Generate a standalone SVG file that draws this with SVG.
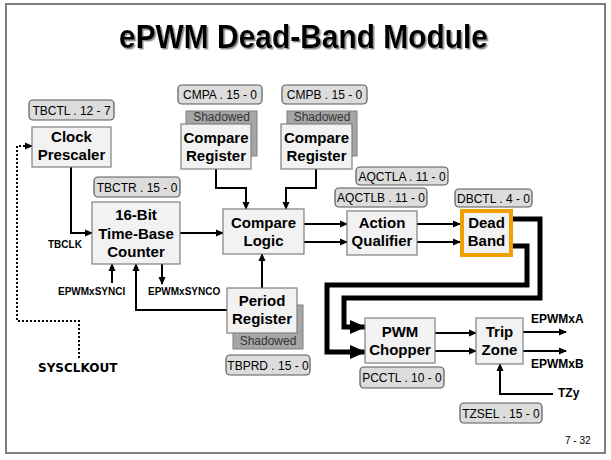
<svg xmlns="http://www.w3.org/2000/svg" width="611" height="460" viewBox="0 0 611 460">
<defs>
<style>
.box{fill:#f2f2f2;stroke:#7f7f7f;stroke-width:1.2}
.reg{fill:#dcdcdc;stroke:#595959;stroke-width:1.2}
.shd{fill:#a6a6a6;stroke:#7f7f7f;stroke-width:1}
.bt{font-family:"Liberation Sans",Arial,sans-serif;font-weight:bold;font-size:15px;text-anchor:middle;fill:#000}
.rt{font-family:"Liberation Sans",Arial,sans-serif;font-size:12px;text-anchor:middle;fill:#000}
.st{font-family:"Liberation Sans",Arial,sans-serif;font-size:12px;text-anchor:middle;fill:#333}
.sm{font-family:"Liberation Sans",Arial,sans-serif;font-weight:bold;font-size:10px;fill:#000}
.lb{font-family:"Liberation Sans",Arial,sans-serif;font-weight:bold;font-size:12px;fill:#000}
.c{fill:none;stroke:#000;stroke-width:2}
.thick{fill:none;stroke:#000;stroke-width:5}
.dot{fill:none;stroke:#000;stroke-width:2;stroke-dasharray:2,2}
</style>
<filter id="ts" x="-5%" y="-20%" width="110%" height="140%"><feDropShadow dx="1.5" dy="1.5" stdDeviation="0.6" flood-color="#8a8a8a"/></filter>
<marker id="a" markerUnits="userSpaceOnUse" markerWidth="8" markerHeight="8" refX="7" refY="4" orient="auto"><path d="M0,0.5 L8,4 L0,7.5 z" fill="#000"/></marker>
<marker id="A" markerUnits="userSpaceOnUse" markerWidth="16" markerHeight="16" refX="15" refY="8" orient="auto"><path d="M0,1 L16,8 L0,15 z" fill="#000"/></marker>
</defs>
<rect x="6" y="4" width="599" height="449" fill="#fff" stroke="#7f7f7f" stroke-width="2"/>
<text x="119" y="48" textLength="369" lengthAdjust="spacingAndGlyphs" font-family="Liberation Sans,Arial,sans-serif" font-weight="bold" font-size="33" fill="#000" filter="url(#ts)">ePWM Dead-Band Module</text>

<g id="connectors">
<path class="c" d="M71,167 V233 H92" marker-end="url(#a)"/>
<path class="c" d="M180,233 H223" marker-end="url(#a)"/>
<path class="c" d="M216,169 V188 H246 V209" marker-end="url(#a)"/>
<path class="c" d="M316,169 V188 H286 V209" marker-end="url(#a)"/>
<path class="c" d="M304,224 H347" marker-end="url(#a)"/>
<path class="c" d="M304,242 H347" marker-end="url(#a)"/>
<path class="c" d="M417,224 H460" marker-end="url(#a)"/>
<path class="c" d="M417,242 H460" marker-end="url(#a)"/>
<path class="c" d="M262,288 V254" marker-end="url(#a)"/>
<path class="c" d="M227,310 H136 V264" marker-end="url(#a)"/>
<path class="c" d="M112,283 V264" marker-end="url(#a)"/>
<path class="c" d="M162,264 V284" marker-end="url(#a)"/>
<path class="dot" d="M79,358 V321 H17 V146 H32" marker-end="url(#a)"/>
<path class="thick" d="M513,219 H540 V298 H344 V327 H365" marker-end="url(#A)"/>
<path class="thick" d="M513,246 H527 V285 H327 V352 H365" marker-end="url(#A)"/>
<path class="c" d="M435,333 H476" marker-end="url(#a)"/>
<path class="c" d="M435,351 H476" marker-end="url(#a)"/>
<path class="c" d="M523,332 H566" marker-end="url(#a)"/>
<path class="c" d="M523,351 H566" marker-end="url(#a)"/>
<path class="c" d="M553,394 H500 V364" marker-end="url(#a)"/>
</g>

<g id="tbctl"><rect class="reg" x="29" y="100" width="85" height="20" rx="4"/><text class="rt" x="71.5" y="115">TBCTL . 12 - 7</text></g>
<g id="clock-prescaler"><rect class="box" x="32" y="127" width="79" height="40"/><text class="bt" x="71.5" y="142">Clock</text><text class="bt" x="71.5" y="160">Prescaler</text></g>
<g id="tbctr"><rect class="reg" x="94" y="177" width="86" height="20" rx="4"/><text class="rt" x="137" y="192">TBCTR . 15 - 0</text></g>
<g id="counter"><rect class="box" x="92" y="202" width="88" height="62"/><text class="bt" x="136" y="220">16-Bit</text><text class="bt" x="136" y="239">Time-Base</text><text class="bt" x="136" y="257">Counter</text></g>

<g id="cmpa"><rect class="reg" x="178" y="85" width="84" height="19" rx="4"/><text class="rt" x="220" y="99">CMPA . 15 - 0</text></g>
<g id="compare-register-a"><rect class="shd" x="186" y="111" width="71" height="45"/><text class="st" x="221.5" y="121">Shadowed</text><rect class="box" x="181" y="124" width="70" height="45"/><text class="bt" x="216" y="143">Compare</text><text class="bt" x="216" y="161">Register</text></g>
<g id="cmpb"><rect class="reg" x="282" y="85" width="85" height="19" rx="4"/><text class="rt" x="324.5" y="99">CMPB . 15 - 0</text></g>
<g id="compare-register-b"><rect class="shd" x="287" y="111" width="70" height="45"/><text class="st" x="322" y="121">Shadowed</text><rect class="box" x="281" y="124" width="71" height="45"/><text class="bt" x="316.5" y="143">Compare</text><text class="bt" x="316.5" y="161">Register</text></g>

<g id="compare-logic"><rect class="box" x="223" y="209" width="81" height="45"/><text class="bt" x="263.5" y="228">Compare</text><text class="bt" x="263.5" y="246">Logic</text></g>
<g id="period-register"><rect class="shd" x="233" y="305" width="70" height="44"/><text class="st" x="268" y="345">Shadowed</text><rect class="box" x="227" y="288" width="70" height="45"/><text class="bt" x="262" y="306">Period</text><text class="bt" x="262" y="324">Register</text></g>
<g id="tbprd"><rect class="reg" x="226" y="355" width="84" height="20" rx="4"/><text class="rt" x="268" y="370">TBPRD . 15 - 0</text></g>

<g id="aqctla"><rect class="reg" x="356" y="167" width="92" height="18" rx="4"/><text class="rt" x="402" y="181">AQCTLA . 11 - 0</text></g>
<g id="aqctlb"><rect class="reg" x="335" y="188" width="92" height="19" rx="4"/><text class="rt" x="381" y="202">AQCTLB . 11 - 0</text></g>
<g id="action-qualifier"><rect class="box" x="347" y="211" width="70" height="44"/><text class="bt" x="382" y="228">Action</text><text class="bt" x="382" y="246">Qualifier</text></g>
<g id="dbctl"><rect class="reg" x="455" y="189" width="77" height="18" rx="4"/><text class="rt" x="493.5" y="203">DBCTL . 4 - 0</text></g>
<g id="dead-band"><rect x="462" y="211" width="49" height="44" fill="#f2f2f2" stroke="#f0a000" stroke-width="4"/><text class="bt" x="486.5" y="228">Dead</text><text class="bt" x="486.5" y="246">Band</text></g>

<g id="pwm-chopper"><rect class="box" x="365" y="318" width="70" height="45"/><text class="bt" x="400" y="337">PWM</text><text class="bt" x="400" y="355">Chopper</text></g>
<g id="pcctl"><rect class="reg" x="360" y="367" width="84" height="21" rx="4"/><text class="rt" x="402" y="382">PCCTL . 10 - 0</text></g>
<g id="trip-zone"><rect class="box" x="476" y="318" width="47" height="46"/><text class="bt" x="499.5" y="337">Trip</text><text class="bt" x="499.5" y="355">Zone</text></g>
<g id="tzsel"><rect class="reg" x="460" y="403" width="82" height="20" rx="4"/><text class="rt" x="501" y="418">TZSEL . 15 - 0</text></g>

<g id="labels">
<text class="sm" x="48" y="248">TBCLK</text>
<text class="sm" x="58" y="295">EPWMxSYNCI</text>
<text class="sm" x="148" y="295">EPWMxSYNCO</text>
<text x="38" y="372" font-family="DejaVu Sans,sans-serif" font-weight="bold" font-size="12" fill="#000">SYSCLKOUT</text>
<text class="lb" x="531" y="323">EPWMxA</text>
<text class="lb" x="531" y="368">EPWMxB</text>
<text class="lb" x="558" y="397">TZy</text>
<text x="565" y="444" font-family="Liberation Sans,Arial,sans-serif" font-size="10" fill="#000">7 - 32</text>
</g>
</svg>
